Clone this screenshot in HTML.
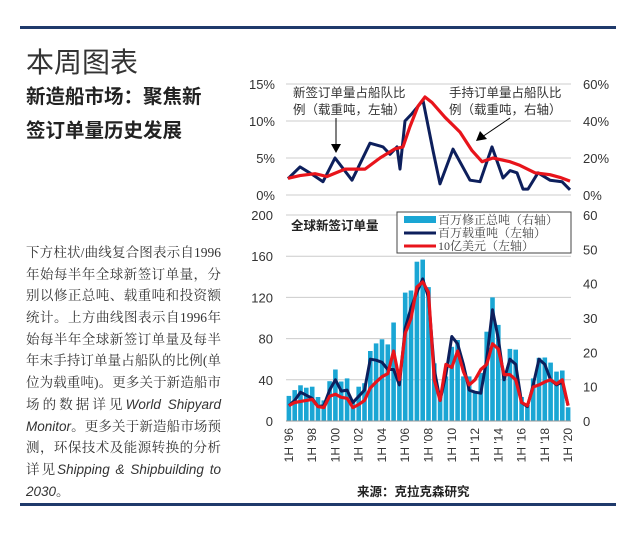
<!DOCTYPE html><html><head><meta charset="utf-8"><style>
body{margin:0;width:635px;height:534px;background:#fff;position:relative;overflow:hidden;font-family:"Liberation Sans","Noto Sans CJK SC",sans-serif}
.ab{position:absolute}
.body div{height:21.7px;line-height:21.7px;text-align:justify;text-align-last:justify;font-family:"Liberation Serif","Noto Serif CJK SC",serif;font-size:13.5px;color:#333;white-space:nowrap;width:195px}
.body div.l{text-align-last:left}
i{font-family:"Liberation Sans",sans-serif}
</style></head><body>
<div class="ab" style="left:20px;top:26px;width:596px;height:3px;background:#1f3a6b"></div>
<div class="ab" style="left:20px;top:503px;width:596px;height:3px;background:#1f3a6b"></div>
<div class="ab" style="left:26px;top:41px;font-size:28px;color:#333">本周图表</div>
<div class="ab" style="left:26px;top:80px;font-size:19.5px;font-weight:bold;color:#222;line-height:34px">新造船市场：聚焦新<br>签订单量历史发展</div>
<div class="ab body" style="left:26px;top:242px">
<div>下方柱状/曲线复合图表示自1996</div><div>年始每半年全球新签订单量，分</div><div>别以修正总吨、载重吨和投资额</div><div>统计。上方曲线图表示自1996年</div><div>始每半年全球新签订单量及每半</div><div>年末手持订单量占船队的比例(单</div><div>位为载重吨)。更多关于新造船市</div><div>场的数据详见<i>World Shipyard</i></div><div><i>Monitor</i>。更多关于新造船市场预</div><div>测，环保技术及能源转换的分析</div><div>详见<i>Shipping &amp; Shipbuilding to</i></div><div class="l"><i>2030</i>。</div>
</div>
<svg id="s" class="ab" style="left:0;top:0" width="635" height="534" font-family="Liberation Sans, Noto Sans CJK SC, sans-serif"></svg>
<script>
var s=document.getElementById('s'),h='';
var X0=286,X1=571,N=49,dx=(X1-X0)/N;
function cx(i){return X0+dx*(i+0.5)}
var T0=84,TB=195;
for(var k=0;k<4;k++){var y=T0+k*(TB-T0)/3;h+='<line x1="'+X0+'" x2="'+X1+'" y1="'+y+'" y2="'+y+'" stroke="#ccc"/>';
h+='<text x="275" y="'+(y+5)+'" font-size="13" text-anchor="end" fill="#333">'+[15,10,5,0][k]+'%</text>';
h+='<text x="583" y="'+(y+5)+'" font-size="13" fill="#333">'+[60,40,20,0][k]+'%</text>';}
var td=[[288,2.2],[300,3.8],[312,2.8],[323,1.8],[335,5],[352,2],[370,7],[383,6.5],[390,5.5],[397,6.5],[400,3.5],[405,10],[412,11],[423,12.8],[433,6],[440,1.5],[453,6.2],[470,2],[480,1.8],[492,6.5],[503,2.3],[510,3.3],[517,3],[523,0.8],[528,0.8],[538,3],[550,2],[562,1.8],[570,0.7]];
var tr=[[288,9],[300,10.5],[315,11.5],[327,10],[345,14],[365,14],[380,20],[395,25],[403,26],[410,37],[418,48],[425,53],[432,50],[445,42],[460,34],[472,24],[482,18],[493,20],[510,18],[520,16],[535,12],[550,11],[560,9.5],[570,7.5]];
function pp(a,f,c,w){var p=a.map(function(q){return q[0]+','+f(q[1]).toFixed(1)}).join(' ');return '<polyline points="'+p+'" fill="none" stroke="'+c+'" stroke-width="'+w+'" stroke-linejoin="round"/>'}
function pl(a,f,c,w){var p=a.map(function(v,i){return cx(i).toFixed(1)+','+f(v).toFixed(1)}).join(' ');return '<polyline points="'+p+'" fill="none" stroke="'+c+'" stroke-width="'+w+'" stroke-linejoin="round"/>'}
h+=pp(td,function(v){return TB-v/15*(TB-T0)},'#0d1f5c',3);
h+=pp(tr,function(v){return TB-v/60*(TB-T0)},'#e8141b',3.2);
h+='<text x="293" y="97" font-size="12.5" fill="#333">新签订单量占船队比</text><text x="293" y="114" font-size="12.5" fill="#333">例（载重吨，左轴）</text>';
h+='<text x="449" y="97" font-size="12.5" fill="#333">手持订单量占船队比</text><text x="449" y="114" font-size="12.5" fill="#333">例（载重吨，右轴）</text>';
h+='<line x1="336" y1="118" x2="336" y2="146" stroke="#000"/><polygon points="331,144 341,144 336,153" fill="#000"/>';
h+='<line x1="510" y1="118" x2="482" y2="137" stroke="#000"/><polygon points="476,141 480,131 487,139" fill="#000"/>';
var B0=215,BB=421;
for(var k=0;k<6;k++){var y=B0+k*(BB-B0)/5;if(k<5)h+='<line x1="'+X0+'" x2="'+X1+'" y1="'+y+'" y2="'+y+'" stroke="#ccc"/>';
h+='<text x="273" y="'+(y+5)+'" font-size="13" text-anchor="end" fill="#333">'+[200,160,120,80,40,0][k]+'</text>';}
for(var k=0;k<7;k++){var y=BB-k*(BB-B0)/6;h+='<text x="583" y="'+(y+5)+'" font-size="13" fill="#333">'+(k*10)+'</text>';}
var bars=[7.3,9,10.4,9.7,10,7,6,11.6,15,11.5,12.4,6,10,11,20.4,22.6,23.8,22.3,28.7,13,37.4,38,46.4,47,39,16.8,7,13,21.6,23.6,13,13,8.5,14,26,36,28,14,21,20.8,7,4.7,12.4,18.4,18.5,17,14.4,14.7,4];
bars.forEach(function(v,i){var y=BB-v/60*(BB-B0);h+='<rect x="'+(X0+dx*i+0.6).toFixed(1)+'" y="'+y.toFixed(1)+'" width="'+(dx-1.2).toFixed(1)+'" height="'+(BB-y).toFixed(1)+'" fill="#1aa6d4"/>'});
var bd=[15,20,28,25,22,14,15,30,40,29,30,18,24,30,60,59,57,50,50,35,90,110,125,138,120,50,20,45,82,75,55,30,28,27,60,108,80,40,60,55,18,14,35,60,55,40,35,38,15];
var br=[15,18,19,20,21,14,13,24,26,23,22,13,16,20,32,38,43,46,68,40,85,100,130,135,125,40,20,55,52,68,48,35,40,50,55,75,70,45,45,40,18,15,33,35,38,40,36,40,15];
var fb=function(v){return BB-v/200*(BB-B0)};
h+=pl(bd,fb,'#0d1f5c',3);h+=pl(br,fb,'#e8141b',3.2);
h+='<line x1="'+X0+'" x2="'+X1+'" y1="'+BB+'" y2="'+BB+'" stroke="#999"/>';
h+='<text x="291" y="230" font-size="12.5" font-weight="bold" fill="#222">全球新签订单量</text>';
h+='<rect x="397" y="212" width="174" height="41" fill="#fff" stroke="#444"/>';
h+='<rect x="404" y="216" width="32" height="7" fill="#1aa6d4"/><line x1="404" x2="436" y1="233" y2="233" stroke="#0d1f5c" stroke-width="3"/><line x1="404" x2="436" y1="246" y2="246" stroke="#e8141b" stroke-width="3"/>';
h+='<g font-size="12" fill="#444" font-family="Liberation Serif, Noto Serif CJK SC, serif"><text x="438" y="224">百万修正总吨（右轴）</text><text x="438" y="237">百万载重吨（左轴）</text><text x="438" y="250">10亿美元（左轴）</text></g>';
for(var k=0;k<13;k++){var x=cx(k*4)+4;h+='<text transform="translate('+x.toFixed(1)+',428) rotate(-90)" font-size="12" text-anchor="end" fill="#333">1H \''+('0'+((96+2*k)%100)).slice(-2)+'</text>';}
h+='<text x="357" y="496" font-size="12.5" font-weight="bold" fill="#222">来源：克拉克森研究</text>';
s.innerHTML=h;
</script>
</body></html>
